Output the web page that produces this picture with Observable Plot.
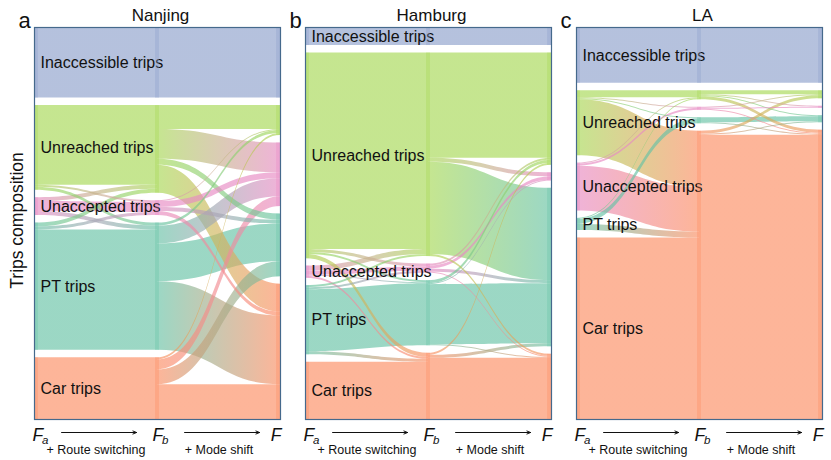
<!DOCTYPE html>
<html><head><meta charset="utf-8">
<script src="https://cdn.jsdelivr.net/npm/d3@7"></script>
<script src="https://cdn.jsdelivr.net/npm/@observablehq/plot@0.6"></script>
<style>
html,body{margin:0;padding:0;background:#fff;}
#chart{width:831px;height:460px;}
</style></head><body>
<svg width="0" height="0" style="position:absolute"><defs id="grads"></defs></svg>
<div id="chart"></div>
<script>
// ---------- data ----------
const cities = ["Nanjing", "Hamburg", "LA"];
const panelLetters = ["a", "b", "c"];
const categories = ["Inaccessible trips", "Unreached trips", "Unaccepted trips", "PT trips", "Car trips"];
const categoryColors = ["#8da0cb", "#a6d854", "#e78ac3", "#66c2a5", "#fc8d62"];
const stageSubscripts = ["a", "b", ""];
const stepLabels = ["+ Route switching", "+ Mode shift"];

// flow matrices: rows = source category, columns = target category (relative trip counts)
const nanjingRouteSwitching = [
  [71, 0, 0, 0, 0],
  [0, 80, 2, 3, 0],
  [0, 4, 10, 4, 0],
  [0, 4, 3, 121, 0],
  [0, 0, 0, 0, 62]
];
const nanjingModeShift = [
  [71, 0, 0, 0, 0],
  [0, 24, 30, 6, 28],
  [0, 1, 6, 4, 4],
  [0, 3, 18, 38, 69],
  [0, 2, 10, 15, 35]
];
const hamburgRouteSwitching = [
  [18, 0, 0, 0, 0],
  [0, 196, 3, 2, 4],
  [0, 5, 4, 1, 2],
  [0, 2, 2, 62, 3],
  [0, 0, 0, 0, 57]
];
const hamburgModeShift = [
  [18, 0, 0, 0, 0],
  [0, 105, 4, 92, 2],
  [0, 2, 3, 3, 1],
  [0, 3, 1, 60, 1],
  [0, 2, 0, 3, 61]
];
const laRouteSwitching = [
  [56, 0, 0, 0, 0],
  [0, 7, 1, 1, 56],
  [0, 1, 2, 0, 45],
  [0, 1, 0, 5, 6],
  [0, 0, 0, 0, 182]
];
const laModeShift = [
  [56, 0, 0, 0, 0],
  [0, 4, 1, 1, 3],
  [0, 1, 1, 0, 1],
  [0, 0, 0, 5, 1],
  [0, 3, 0, 1, 285]
];
const cityFlows = [
  [nanjingRouteSwitching, nanjingModeShift],
  [hamburgRouteSwitching, hamburgModeShift],
  [laRouteSwitching, laModeShift]
];

// ---------- gradients ----------
const defs = d3.select("#grads");
categoryColors.forEach((cs, s) => categoryColors.forEach((ct, t) => {
  const g = defs.append("linearGradient").attr("id", `g${s}${t}`).attr("x1", 0).attr("x2", 1).attr("y1", 0).attr("y2", 0);
  g.append("stop").attr("offset", "0%").attr("stop-color", cs).attr("stop-opacity", 0.65);
  g.append("stop").attr("offset", "100%").attr("stop-color", ct).attr("stop-opacity", 0.65);
}));

// ---------- alluvial layout (shares of trips, stacked top-down) ----------
const GAP = 2.07;
const n = categories.length;
const H = 100 + GAP * (n - 1);
const links = [], nodes = [], labels = [];
cities.forEach((city, ci) => {
  const [m1, m2] = cityFlows[ci];
  const total = d3.sum(m1.flat());
  const rowSums = m => m.map(r => d3.sum(r));
  const colSums = m => m[0].map((_, j) => d3.sum(m, r => r[j]));
  const cols = [rowSums(m1), colSums(m1), colSums(m2)];
  const nodeY = cols.map(vals => { let y = 0; return vals.map(v => { const y0 = y; y += v / total * 100 + GAP; return y0; }); });
  cols.forEach((vals, col) => vals.forEach((v, k) => {
    const h = v / total * 100;
    nodes.push({city, col, k, y1: nodeY[col][k], y2: nodeY[col][k] + h});
    if (col === 0) labels.push({city, label: categories[k], yc: nodeY[col][k] + h / 2});
  }));
  [m1, m2].forEach((m, st) => {
    const outOff = new Array(n).fill(0), inOff = new Array(n).fill(0);
    for (let s = 0; s < n; s++) for (let t = 0; t < n; t++) {
      const v = m[s][t];
      if (!v) continue;
      const h = v / total * 100;
      const a = nodeY[st][s] + outOff[s]; outOff[s] += h;
      const b = nodeY[st + 1][t] + inOff[t]; inOff[t] += h;
      const id = `${city}-${st}-${s}-${t}`;
      links.push({city, id, v, s, t, x: st, y1: a, y2: a + h});
      links.push({city, id, v, s, t, x: st + 1, y1: b, y2: b + h});
    }
  });
});
links.sort((p, q) => d3.descending(p.v, q.v));

const barW = 0.032;
const barX1 = d => d.col === 0 ? 0 : d.col === 2 ? 2 - barW : d.col - barW / 2;
const barX2 = d => d.col === 0 ? barW : d.col === 2 ? 2 : d.col + barW / 2;

const stageMarks = [];
[0, 1, 2].forEach(st => {
  const anchor = st === 2 ? "end" : "start";
  const dxF = st === 0 ? -2 : st === 1 ? -5 : 1;
  stageMarks.push(Plot.text(cities, {fx: d => d, x: st, frameAnchor: "bottom", text: () => "F", textAnchor: anchor, lineAnchor: "bottom", dx: dxF, dy: 21, fontSize: 17.5, fontStyle: "italic", fill: "#111"}));
  if (stageSubscripts[st]) stageMarks.push(Plot.text(cities, {fx: d => d, x: st, frameAnchor: "bottom", text: () => stageSubscripts[st], textAnchor: "start", lineAnchor: "bottom", dx: dxF + 9.5, dy: 24, fontSize: 11.5, fontStyle: "italic", fill: "#111"}));
});
const arrows = [];
cities.forEach(city => [0, 1].forEach(st => arrows.push({city, a: st + 0.22, b: st + 0.83, mid: st + 0.5, label: stepLabels[st]})));

const chart = Plot.plot({
  width: 831, height: 460,
  marginTop: 27, marginBottom: 41, marginLeft: 34, marginRight: 8,
  x: {domain: [0, 2], axis: null},
  y: {domain: [0, H], reverse: true, axis: null},
  fx: {domain: cities, paddingInner: 0.092, paddingOuter: 0, axis: null},
  color: {type: "identity"},
  style: {fontFamily: "'Liberation Sans', Arial, sans-serif", fontSize: "12px", background: "white", overflow: "visible"},
  marks: [
    Plot.areaY(links, {fx: "city", x: "x", y1: "y1", y2: "y2", z: "id", fill: d => `url(#g${d.s}${d.t})`, curve: "bump-x"}),
    Plot.text(labels, {fx: "city", x: 0, y: "yc", text: "label", textAnchor: "start", dx: 6, fontSize: 16, fill: "#111"}),
    Plot.rect(nodes, {fx: "city", x1: barX1, x2: barX2, y1: "y1", y2: "y2", fill: d => categoryColors[d.k], fillOpacity: 0.35}),
    Plot.frame({stroke: "#45698c", strokeWidth: 1.2}),
    Plot.text(cities, {fx: d => d, frameAnchor: "top", text: d => d, textAnchor: "middle", lineAnchor: "bottom", dx: 3, dy: -7, fontSize: 17, fill: "#111"}),
    Plot.text(cities, {fx: d => d, frameAnchor: "top-left", text: (d, i) => panelLetters[i], textAnchor: "start", lineAnchor: "bottom", dx: -16, dy: 0, fontSize: 22, fill: "#111"}),
    Plot.text(["Trips composition"], {fx: () => cities[0], frameAnchor: "left", text: d => d, textAnchor: "middle", rotate: -90, lineAnchor: "bottom", dx: -12, dy: -3, fontSize: 17.5, fill: "#111"}),
    ...stageMarks,
    Plot.arrow(arrows, {fx: "city", x1: "a", x2: "b", y1: () => H, y2: () => H, dy: 13, stroke: "#111", strokeWidth: 1, headLength: 6, headAngle: 45}),
    Plot.text(arrows, {fx: "city", x: "mid", frameAnchor: "bottom", text: "label", textAnchor: "middle", lineAnchor: "bottom", dy: 34, fontSize: 12.5, fill: "#111"})
  ]
});
document.getElementById("chart").appendChild(chart);
</script>
</body></html>
